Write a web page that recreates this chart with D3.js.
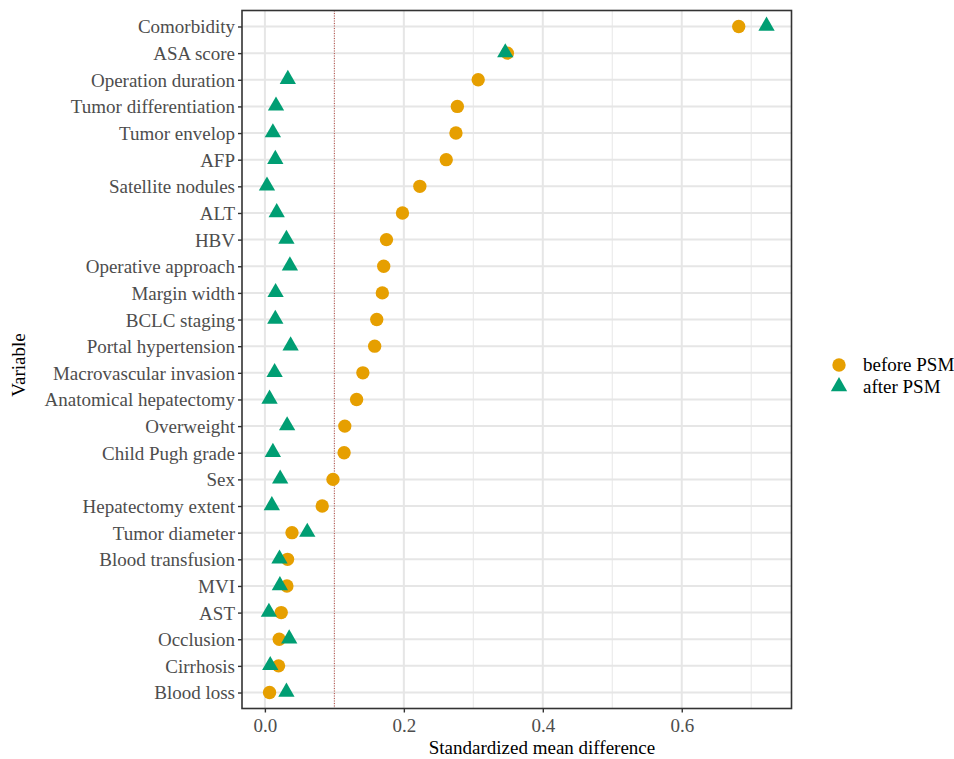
<!DOCTYPE html>
<html>
<head>
<meta charset="utf-8">
<script src="https://cdn.jsdelivr.net/npm/d3@7"></script>
<style>
  body { margin: 0; background: #fff; }
  svg { display: block; }
</style>
</head>
<body>
<svg id="chart" width="954" height="759"></svg>
<script>
const categories = ["Comorbidity","ASA score","Operation duration","Tumor differentiation","Tumor envelop","AFP","Satellite nodules","ALT","HBV","Operative approach","Margin width","BCLC staging","Portal hypertension","Macrovascular invasion","Anatomical hepatectomy","Overweight","Child Pugh grade","Sex","Hepatectomy extent","Tumor diameter","Blood transfusion","MVI","AST","Occlusion","Cirrhosis","Blood loss"];
const beforePSM = [0.682,0.349,0.307,0.277,0.275,0.261,0.223,0.198,0.175,0.171,0.169,0.161,0.158,0.141,0.132,0.115,0.114,0.098,0.0825,0.039,0.0326,0.0317,0.0235,0.0206,0.0197,0.0067];
const afterPSM = [0.722,0.346,0.033,0.016,0.0115,0.015,0.003,0.017,0.031,0.036,0.0154,0.015,0.037,0.014,0.0067,0.032,0.0115,0.022,0.010,0.061,0.021,0.0216,0.0058,0.035,0.0077,0.031];
const xTicks = [0, 0.2, 0.4, 0.6];
const xMinor = [0.1, 0.3, 0.5, 0.7];
const threshold = 0.1;
const seriesNames = ["before PSM", "after PSM"];
const seriesColors = ["#E69F00", "#009E73"];

const svg = d3.select("#chart");
const font = "'Liberation Serif', 'Times New Roman', serif";
const fs = "19px";
const panel = {left: 242, top: 10.5, right: 791.5, bottom: 708.5};

const allVals = beforePSM.concat(afterPSM);
const lo = d3.min(allVals), hi = d3.max(allVals);
const pad = (hi - lo) * 0.05;
const x = d3.scaleLinear().domain([lo - pad, hi + pad]).range([panel.left, panel.right]);
const y = d3.scalePoint().domain(categories).range([panel.top, panel.bottom]).padding(0.6);

const g = svg.append("g");

// gridlines
g.selectAll("line.minor").data(xMinor).join("line")
  .attr("x1", d => x(d)).attr("x2", d => x(d))
  .attr("y1", panel.top).attr("y2", panel.bottom)
  .attr("stroke", "#EBEBEB").attr("stroke-width", 1.2);
g.selectAll("line.major").data(xTicks).join("line")
  .attr("x1", d => x(d)).attr("x2", d => x(d))
  .attr("y1", panel.top).attr("y2", panel.bottom)
  .attr("stroke", "#E6E6E6").attr("stroke-width", 2);
g.selectAll("line.hgrid").data(categories).join("line")
  .attr("x1", panel.left).attr("x2", panel.right)
  .attr("y1", d => y(d)).attr("y2", d => y(d))
  .attr("stroke", "#E6E6E6").attr("stroke-width", 2);

// threshold line
g.append("line")
  .attr("x1", x(threshold)).attr("x2", x(threshold))
  .attr("y1", panel.top).attr("y2", panel.bottom)
  .attr("stroke", "#B5473F").attr("stroke-width", 1)
  .attr("stroke-dasharray", "1,1.5");

// points
const circle = d3.symbol().type(d3.symbolCircle).size(140);
const tri = d3.symbol().type(d3.symbolTriangle).size(115);

g.selectAll("path.before").data(categories).join("path")
  .attr("d", circle)
  .attr("transform", (d, i) => `translate(${x(beforePSM[i])},${y(d)})`)
  .attr("fill", seriesColors[0]);
g.selectAll("path.after").data(categories).join("path")
  .attr("d", tri)
  .attr("transform", (d, i) => `translate(${x(afterPSM[i])},${y(d) - 0.5})`)
  .attr("fill", seriesColors[1]);

// panel border
g.append("rect")
  .attr("x", panel.left).attr("y", panel.top)
  .attr("width", panel.right - panel.left).attr("height", panel.bottom - panel.top)
  .attr("fill", "none").attr("stroke", "#333333").attr("stroke-width", 1.6);

// axes
const xAxis = d3.axisBottom(x).tickValues(xTicks).tickFormat(d3.format(".1f")).tickSize(4).tickPadding(5);
const yAxis = d3.axisLeft(y).tickSize(4).tickPadding(3);

const gx = svg.append("g").attr("transform", `translate(0,${panel.bottom})`).call(xAxis);
const gy = svg.append("g").attr("transform", `translate(${panel.left},0)`).call(yAxis);
[gx, gy].forEach(a => {
  a.select(".domain").remove();
  a.selectAll(".tick line").attr("stroke", "#333333").attr("stroke-width", 1.4);
  a.selectAll(".tick text").attr("fill", "#4D4D4D")
    .style("font-family", font).style("font-size", fs);
});
gx.selectAll(".tick text").attr("dy", "0.74em");
gy.selectAll(".tick text").attr("dy", "0.34em");

// axis titles
svg.append("text")
  .attr("x", 542).attr("y", 754)
  .attr("text-anchor", "middle")
  .style("font-family", font).style("font-size", fs).attr("fill", "#000")
  .text("Standardized mean difference");
svg.append("text")
  .attr("transform", `translate(25,365) rotate(-90)`)
  .attr("text-anchor", "middle")
  .style("font-family", font).style("font-size", fs).attr("fill", "#000")
  .text("Variable");

// legend
const legend = svg.append("g").attr("transform", "translate(839,365)");
const syms = [circle, tri];
seriesNames.forEach((name, i) => {
  const row = legend.append("g").attr("transform", `translate(0,${i * 22})`);
  row.append("path").attr("d", syms[i]).attr("fill", seriesColors[i])
    .attr("transform", i === 1 ? "translate(0,-0.5)" : null);
  row.append("text").attr("x", 24).attr("dy", "0.34em")
    .style("font-family", font).style("font-size", fs).attr("fill", "#000")
    .text(name);
});
</script>
</body>
</html>
